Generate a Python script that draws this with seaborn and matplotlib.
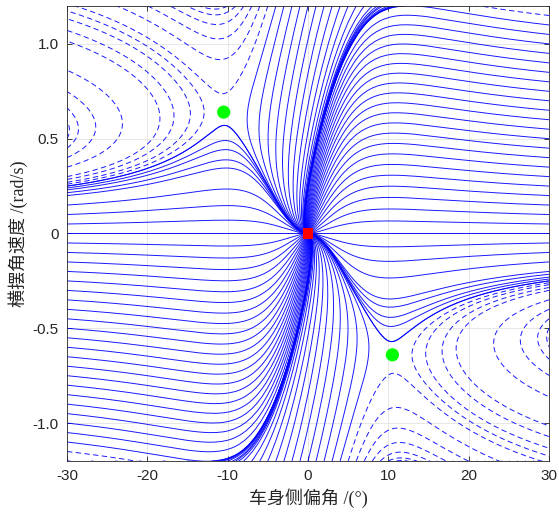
import numpy as np
import pandas as pd
import matplotlib
matplotlib.use('Agg')
import matplotlib.pyplot as plt
import seaborn as sns

# 2-DOF vehicle model with magic-formula tyres (front steer = 0)
mass = 1500.0          # kg
yaw_inertia = 1500.0   # kg m^2
dist_front = 1.2       # m, CG to front axle
dist_rear = 1.4        # m, CG to rear axle
speed = 16.0           # m/s
friction = 1.067
tyre_B = 8.45
tyre_C = 1.6
grav = 9.81

# start states of the trajectories, read along the frame of the picture
edge_rates = np.round(np.arange(-1.2, 1.201, 0.05), 3)      # rad/s, at beta = -30 / +30 deg
extra_rates = [0.215, 0.23, 0.24, 0.25, 0.26, 0.27, 0.285]  # denser near the separatrix
edge_slips = np.concatenate([np.arange(-30, 12, 1), np.arange(12, 31, 3)])  # deg, at r = +1.2
beta_lim = 30
rate_lim = 1.2

wheelbase = dist_front + dist_rear
peak_f = friction * mass * grav * dist_rear / wheelbase
peak_r = friction * mass * grav * dist_front / wheelbase


def field(beta, r):
    slip_f = beta + dist_front * r / speed
    slip_r = beta - dist_rear * r / speed
    fy_f = -peak_f * np.sin(tyre_C * np.arctan(tyre_B * slip_f))
    fy_r = -peak_r * np.sin(tyre_C * np.arctan(tyre_B * slip_r))
    d_beta = (fy_f + fy_r) / (mass * speed) - r
    d_r = (dist_front * fy_f - dist_rear * fy_r) / yaw_inertia
    return d_beta, d_r


def equilibrium(beta, r):
    x = np.array([beta, r], float)
    for _ in range(50):
        f0 = np.array(field(*x))
        jac = np.zeros((2, 2))
        for j in range(2):
            step = np.zeros(2)
            step[j] = 1e-7
            jac[:, j] = (np.array(field(*(x + step))) - f0) / 1e-7
        x = x - np.linalg.solve(jac, f0)
    return x


lim_b = np.deg2rad(beta_lim)
rates_left = np.concatenate([edge_rates, extra_rates])
slips = np.deg2rad(edge_slips)
b0 = np.concatenate([np.full(rates_left.size, -lim_b), np.full(rates_left.size, lim_b),
                     slips, -slips])
r0 = np.concatenate([rates_left, -rates_left,
                     np.full(slips.size, rate_lim), np.full(slips.size, -rate_lim)])

# RK4, all trajectories at once; a trajectory stops once it leaves the frame
dt = 0.004
n_steps = 2500
keep = 2
x, y = b0.copy(), r0.copy()
alive = np.ones(b0.size, bool)
frames = [(x.copy(), y.copy(), alive.copy())]
for i in range(n_steps):
    k1 = field(x, y)
    k2 = field(x + dt / 2 * k1[0], y + dt / 2 * k1[1])
    k3 = field(x + dt / 2 * k2[0], y + dt / 2 * k2[1])
    k4 = field(x + dt * k3[0], y + dt * k3[1])
    x = x + dt / 6 * (k1[0] + 2 * k2[0] + 2 * k3[0] + k4[0])
    y = y + dt / 6 * (k1[1] + 2 * k2[1] + 2 * k3[1] + k4[1])
    inside = (np.abs(x) < np.deg2rad(beta_lim + 1)) & (np.abs(y) < rate_lim + 0.05)
    last = alive.copy()
    alive &= inside
    if i % keep == 0 or np.any(last & ~alive):
        frames.append((x.copy(), y.copy(), last))
converged = alive & (np.abs(x) < 0.01) & (np.abs(y) < 0.01)

parts = []
for bx, ry, ok in frames:
    idx = np.nonzero(ok)[0]
    parts.append(pd.DataFrame({'traj': idx, 'beta': np.rad2deg(bx[idx]), 'r': ry[idx]}))
df = pd.concat(parts, ignore_index=True)
df['kind'] = np.where(converged[df['traj'].to_numpy()], 'stable', 'unstable')

saddles = [equilibrium(np.deg2rad(-10), 0.6), equilibrium(np.deg2rad(10), -0.6)]
saddle_df = pd.DataFrame({'beta': [np.rad2deg(s[0]) for s in saddles],
                          'r': [s[1] for s in saddles]})
origin_df = pd.DataFrame({'beta': [0.0], 'r': [0.0]})

sns.set_style('whitegrid')
plt.rcParams['font.family'] = ['Liberation Sans', 'Noto Sans CJK SC']
plt.rcParams['axes.unicode_minus'] = False

fig = plt.figure(figsize=(5.59, 5.13), dpi=100)
ax = fig.add_axes([0.1199, 0.1014, 0.8623, 0.8869])

sns.lineplot(data=df, x='beta', y='r', units='traj', estimator=None, sort=False,
             style='kind', style_order=['stable', 'unstable'],
             dashes={'stable': '', 'unstable': (5.5, 3.5)},
             color='#0000ff', lw=0.7, alpha=0.9, legend=False, ax=ax)
sns.scatterplot(data=saddle_df, x='beta', y='r', color='#00ff00', s=90,
                edgecolor='none', zorder=5, legend=False, ax=ax)
sns.scatterplot(data=origin_df, x='beta', y='r', color='#ff0000', marker='s', s=55,
                edgecolor='none', zorder=5, legend=False, ax=ax)

ax.set_xlim(-beta_lim, beta_lim)
ax.set_ylim(-rate_lim, rate_lim)
ax.set_xticks([-30, -20, -10, 0, 10, 20, 30])
ax.set_yticks([-1.0, -0.5, 0, 0.5, 1.0])
ax.set_yticklabels(['-1.0', '-0.5', '0', '0.5', '1.0'])
ax.grid(True, color='#e3e3e3', lw=0.6)
ax.set_axisbelow(True)
for sp in ax.spines.values():
    sp.set_color('#262626')
    sp.set_linewidth(0.6)
ax.tick_params(direction='in', length=3.5, width=0.6, color='#262626',
               labelsize=11, labelcolor='#262626', top=True, right=True,
               bottom=True, left=True, pad=6)

label_font = ['Liberation Serif', 'Noto Sans CJK SC']
ax.set_xlabel('车身侧偏角 /(°)', family=label_font, fontsize=13, color='#262626', labelpad=4)
ax.set_ylabel('横摆角速度 /(rad/s)', family=label_font, fontsize=13, color='#262626', labelpad=3)

fig.savefig('out.png', dpi=100)
